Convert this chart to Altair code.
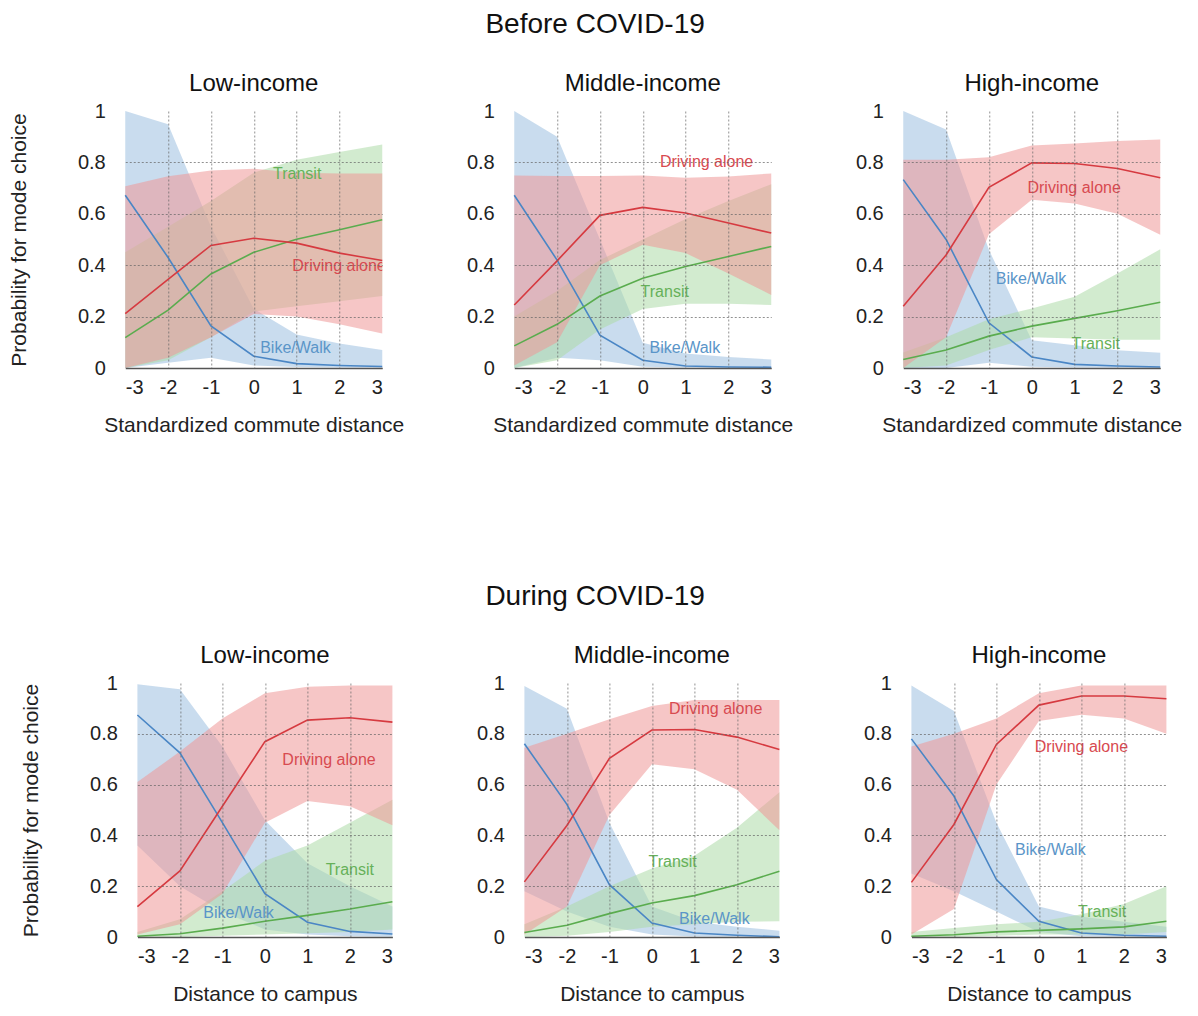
import altair as alt
import pandas as pd

X = [-3, -2, -1, 0, 1, 2, 3]
MODES = ["Bike/Walk", "Transit", "Driving alone"]
INCOMES = ["Low-income", "Middle-income", "High-income"]

# ---- Before COVID-19 -------------------------------------------------
BL_BIKE_MEAN = [0.672, 0.43, 0.164, 0.046, 0.017, 0.010, 0.006]
BL_BIKE_LO = [0.0, 0.02, 0.04, 0.01, 0.004, 0.002, 0.001]
BL_BIKE_HI = [1.0, 0.948, 0.55, 0.23, 0.13, 0.095, 0.07]
BL_TRAN_MEAN = [0.118, 0.225, 0.366, 0.45, 0.501, 0.538, 0.577]
BL_TRAN_LO = [0.0, 0.03, 0.12, 0.22, 0.24, 0.26, 0.28]
BL_TRAN_HI = [0.45, 0.55, 0.65, 0.76, 0.81, 0.84, 0.87]
BL_DRIV_MEAN = [0.212, 0.345, 0.477, 0.505, 0.486, 0.447, 0.418]
BL_DRIV_LO = [0.0, 0.04, 0.12, 0.21, 0.20, 0.17, 0.134]
BL_DRIV_HI = [0.707, 0.746, 0.768, 0.775, 0.76, 0.757, 0.757]

BM_BIKE_MEAN = [0.672, 0.42, 0.128, 0.03, 0.008, 0.004, 0.003]
BM_BIKE_LO = [0.0, 0.04, 0.03, 0.005, 0.002, 0.001, 0.0]
BM_BIKE_HI = [1.0, 0.9, 0.5, 0.098, 0.056, 0.043, 0.033]
BM_TRAN_MEAN = [0.086, 0.17, 0.28, 0.349, 0.395, 0.434, 0.473]
BM_TRAN_LO = [0.0, 0.03, 0.15, 0.23, 0.25, 0.25, 0.245]
BM_TRAN_HI = [0.2, 0.3, 0.42, 0.5, 0.58, 0.65, 0.715]
BM_DRIV_MEAN = [0.245, 0.417, 0.594, 0.625, 0.603, 0.564, 0.525]
BM_DRIV_LO = [0.01, 0.1, 0.40, 0.48, 0.447, 0.368, 0.284]
BM_DRIV_HI = [0.749, 0.747, 0.747, 0.749, 0.74, 0.745, 0.757]

BH_BIKE_MEAN = [0.733, 0.5, 0.176, 0.043, 0.014, 0.008, 0.004]
BH_BIKE_LO = [0.0, 0.0, 0.02, 0.005, 0.002, 0.001, 0.0]
BH_BIKE_HI = [1.0, 0.928, 0.46, 0.108, 0.089, 0.069, 0.059]
BH_TRAN_MEAN = [0.033, 0.07, 0.124, 0.163, 0.193, 0.223, 0.256]
BH_TRAN_LO = [0.0, 0.01, 0.07, 0.12, 0.115, 0.11, 0.11]
BH_TRAN_HI = [0.06, 0.12, 0.19, 0.232, 0.277, 0.368, 0.462]
BH_DRIV_MEAN = [0.24, 0.44, 0.703, 0.798, 0.796, 0.776, 0.74]
BH_DRIV_LO = [0.0, 0.12, 0.52, 0.655, 0.64, 0.6, 0.518]
BH_DRIV_HI = [0.81, 0.81, 0.82, 0.866, 0.874, 0.883, 0.889]

# ---- During COVID-19 -------------------------------------------------
DL_BIKE_MEAN = [0.874, 0.725, 0.45, 0.171, 0.058, 0.022, 0.012]
DL_BIKE_LO = [0.36, 0.2, 0.1, 0.03, 0.01, 0.003, 0.001]
DL_BIKE_HI = [0.995, 0.975, 0.75, 0.46, 0.29, 0.2, 0.12]
DL_TRAN_MEAN = [0.003, 0.013, 0.035, 0.062, 0.085, 0.11, 0.139]
DL_TRAN_LO = [0.0, 0.0, 0.005, 0.01, 0.015, 0.02, 0.03]
DL_TRAN_HI = [0.02, 0.07, 0.18, 0.3, 0.36, 0.45, 0.54]
DL_DRIV_MEAN = [0.12, 0.26, 0.515, 0.769, 0.854, 0.863, 0.846]
DL_DRIV_LO = [0.01, 0.05, 0.17, 0.45, 0.535, 0.515, 0.44]
DL_DRIV_HI = [0.61, 0.73, 0.86, 0.96, 0.985, 0.99, 0.99]

DM_BIKE_MEAN = [0.761, 0.522, 0.206, 0.055, 0.016, 0.007, 0.001]
DM_BIKE_LO = [0.18, 0.1, 0.04, 0.01, 0.002, 0.001, 0.0]
DM_BIKE_HI = [0.988, 0.899, 0.45, 0.12, 0.06, 0.04, 0.025]
DM_TRAN_MEAN = [0.018, 0.046, 0.092, 0.134, 0.163, 0.206, 0.259]
DM_TRAN_LO = [0.0, 0.005, 0.02, 0.04, 0.05, 0.06, 0.062]
DM_TRAN_HI = [0.05, 0.12, 0.2, 0.27, 0.32, 0.43, 0.57]
DM_DRIV_MEAN = [0.217, 0.439, 0.703, 0.815, 0.817, 0.787, 0.738]
DM_DRIV_LO = [0.01, 0.12, 0.48, 0.68, 0.66, 0.58, 0.42]
DM_DRIV_HI = [0.745, 0.8, 0.857, 0.909, 0.933, 0.933, 0.933]

DH_BIKE_MEAN = [0.78, 0.555, 0.226, 0.062, 0.016, 0.007, 0.003]
DH_BIKE_LO = [0.25, 0.18, 0.1, 0.02, 0.003, 0.001, 0.0]
DH_BIKE_HI = [0.99, 0.89, 0.45, 0.12, 0.08, 0.06, 0.04]
DH_TRAN_MEAN = [0.003, 0.009, 0.02, 0.026, 0.032, 0.04, 0.062]
DH_TRAN_LO = [0.0, 0.0, 0.005, 0.01, 0.01, 0.01, 0.02]
DH_TRAN_HI = [0.02, 0.035, 0.05, 0.06, 0.09, 0.13, 0.2]
DH_DRIV_MEAN = [0.215, 0.443, 0.758, 0.913, 0.949, 0.949, 0.938]
DH_DRIV_LO = [0.01, 0.11, 0.6, 0.85, 0.875, 0.86, 0.8]
DH_DRIV_HI = [0.75, 0.8, 0.86, 0.96, 0.99, 0.99, 0.99]

# ---- in-panel labels (order: Bike/Walk, Transit, Driving alone) --------
BL_LBL_X = [0.15, 0.45, 0.90]
BL_LBL_Y = [0.076, 0.753, 0.398]
BM_LBL_X = [0.16, -0.05, 0.40]
BM_LBL_Y = [0.076, 0.297, 0.80]
BH_LBL_X = [-0.84, 0.93, -0.10]
BH_LBL_Y = [0.346, 0.095, 0.70]
DL_LBL_X = [-1.45, 1.43, 0.41]
DL_LBL_Y = [0.095, 0.265, 0.696]
DM_LBL_X = [0.64, -0.08, 0.40]
DM_LBL_Y = [0.072, 0.294, 0.899]
DH_LBL_X = [-0.56, 0.92, -0.10]
DH_LBL_Y = [0.344, 0.097, 0.749]

LINE_COL = ["#4a86c5", "#5aac4e", "#d63a40"]
BAND_COL = ["#9dbfe0", "#addaa8", "#ef9797"]
TEXT_COL = ["#5a95c8", "#66b159", "#d84a50"]

PANELS = {
    "BL": ([BL_BIKE_MEAN, BL_BIKE_LO, BL_BIKE_HI], [BL_TRAN_MEAN, BL_TRAN_LO, BL_TRAN_HI],
           [BL_DRIV_MEAN, BL_DRIV_LO, BL_DRIV_HI], BL_LBL_X, BL_LBL_Y),
    "BM": ([BM_BIKE_MEAN, BM_BIKE_LO, BM_BIKE_HI], [BM_TRAN_MEAN, BM_TRAN_LO, BM_TRAN_HI],
           [BM_DRIV_MEAN, BM_DRIV_LO, BM_DRIV_HI], BM_LBL_X, BM_LBL_Y),
    "BH": ([BH_BIKE_MEAN, BH_BIKE_LO, BH_BIKE_HI], [BH_TRAN_MEAN, BH_TRAN_LO, BH_TRAN_HI],
           [BH_DRIV_MEAN, BH_DRIV_LO, BH_DRIV_HI], BH_LBL_X, BH_LBL_Y),
    "DL": ([DL_BIKE_MEAN, DL_BIKE_LO, DL_BIKE_HI], [DL_TRAN_MEAN, DL_TRAN_LO, DL_TRAN_HI],
           [DL_DRIV_MEAN, DL_DRIV_LO, DL_DRIV_HI], DL_LBL_X, DL_LBL_Y),
    "DM": ([DM_BIKE_MEAN, DM_BIKE_LO, DM_BIKE_HI], [DM_TRAN_MEAN, DM_TRAN_LO, DM_TRAN_HI],
           [DM_DRIV_MEAN, DM_DRIV_LO, DM_DRIV_HI], DM_LBL_X, DM_LBL_Y),
    "DH": ([DH_BIKE_MEAN, DH_BIKE_LO, DH_BIKE_HI], [DH_TRAN_MEAN, DH_TRAN_LO, DH_TRAN_HI],
           [DH_DRIV_MEAN, DH_DRIV_LO, DH_DRIV_HI], DH_LBL_X, DH_LBL_Y),
}

GRID = dict(grid=True, gridDash=[2, 2], gridColor="#666", gridWidth=0.8, zindex=1)


def make_panel(key, title, left, xtitle, w, h):
    bike, tran, driv, lx, ly = PANELS[key]
    rows = []
    for mode, arr in zip(MODES, [bike, tran, driv]):
        for i, xv in enumerate(X):
            rows.append({"mode": mode, "x": xv, "mean": arr[0][i], "lo": arr[1][i], "hi": arr[2][i]})
    df = pd.DataFrame(rows)
    lab = pd.DataFrame({"label": MODES, "lx": lx, "ly": ly})

    xax = alt.Axis(values=X, labelExpr="toString(datum.value)", title=xtitle,
                   gridOpacity={"condition": {"test": "abs(datum.value) == 3", "value": 0}, "value": 0.9},
                   domain=True, domainColor="#555", domainWidth=1.5, ticks=False,
                   labelPadding=9, titlePadding=17, **GRID)
    yax = alt.Axis(values=[0, 0.2, 0.4, 0.6, 0.8, 1],
                   labelExpr="datum.value == 0 ? '0' : datum.value == 1 ? '1' : format(datum.value, '.1f')",
                   title="Probability for mode choice" if left else None,
                   gridOpacity={"condition": {"test": "datum.value == 0 || datum.value == 1", "value": 0}, "value": 0.9},
                   domain=False, ticks=False, labelPadding=20, titlePadding=48, **GRID)
    xs = alt.Scale(domain=[-3, 3], nice=False)
    ys = alt.Scale(domain=[0, 1], nice=False)

    layers = []
    for mode, bc in zip(MODES, BAND_COL):
        layers.append(alt.Chart(df).transform_filter(alt.datum.mode == mode).mark_area(
            color=bc, opacity=0.55).encode(
            x=alt.X("x:Q", scale=xs, axis=xax),
            y=alt.Y("lo:Q", scale=ys, axis=yax),
            y2="hi:Q"))
    for mode, lc in zip(MODES, LINE_COL):
        layers.append(alt.Chart(df).transform_filter(alt.datum.mode == mode).mark_line(
            color=lc, strokeWidth=1.6).encode(
            x=alt.X("x:Q", scale=xs, axis=xax),
            y=alt.Y("mean:Q", scale=ys, axis=yax)))
    layers.append(alt.Chart(lab).mark_text(align="left", baseline="middle", fontSize=16, clip=True).encode(
        x=alt.X("lx:Q", scale=xs, axis=xax),
        y=alt.Y("ly:Q", scale=ys, axis=yax),
        text="label:N",
        color=alt.Color("label:N", scale=alt.Scale(domain=MODES, range=TEXT_COL), legend=None)))
    return alt.layer(*layers).properties(
        width=w, height=h,
        title=alt.TitleParams(title, fontSize=24, fontWeight="normal", color="#111", offset=5))


top = alt.hconcat(
    *[make_panel(k, t, i == 0, "Standardized commute distance", 257, 257)
      for i, (k, t) in enumerate(zip(["BL", "BM", "BH"], INCOMES))],
    spacing=132, bounds="flush",
    title=alt.TitleParams("Before COVID-19", fontSize=28, fontWeight="normal", color="#111",
                          anchor="middle", offset=33))
bottom = alt.hconcat(
    *[make_panel(k, t, i == 0, "Distance to campus", 255, 254)
      for i, (k, t) in enumerate(zip(["DL", "DM", "DH"], INCOMES))],
    spacing=132, bounds="flush",
    title=alt.TitleParams("During COVID-19", fontSize=28, fontWeight="normal", color="#111",
                          anchor="middle", offset=33))

chart = alt.vconcat(top, bottom, spacing=148, center=True).properties(
    padding={"top": 3, "left": 0, "right": 0, "bottom": 0}).configure(
    font="Liberation Sans").configure_axis(
    labelFontSize=20, titleFontSize=21, labelColor="#222", titleColor="#222",
    titleFontWeight="normal").configure_view(stroke=None)

chart.save("out.html", embed_options={"renderer": "svg", "actions": False})
